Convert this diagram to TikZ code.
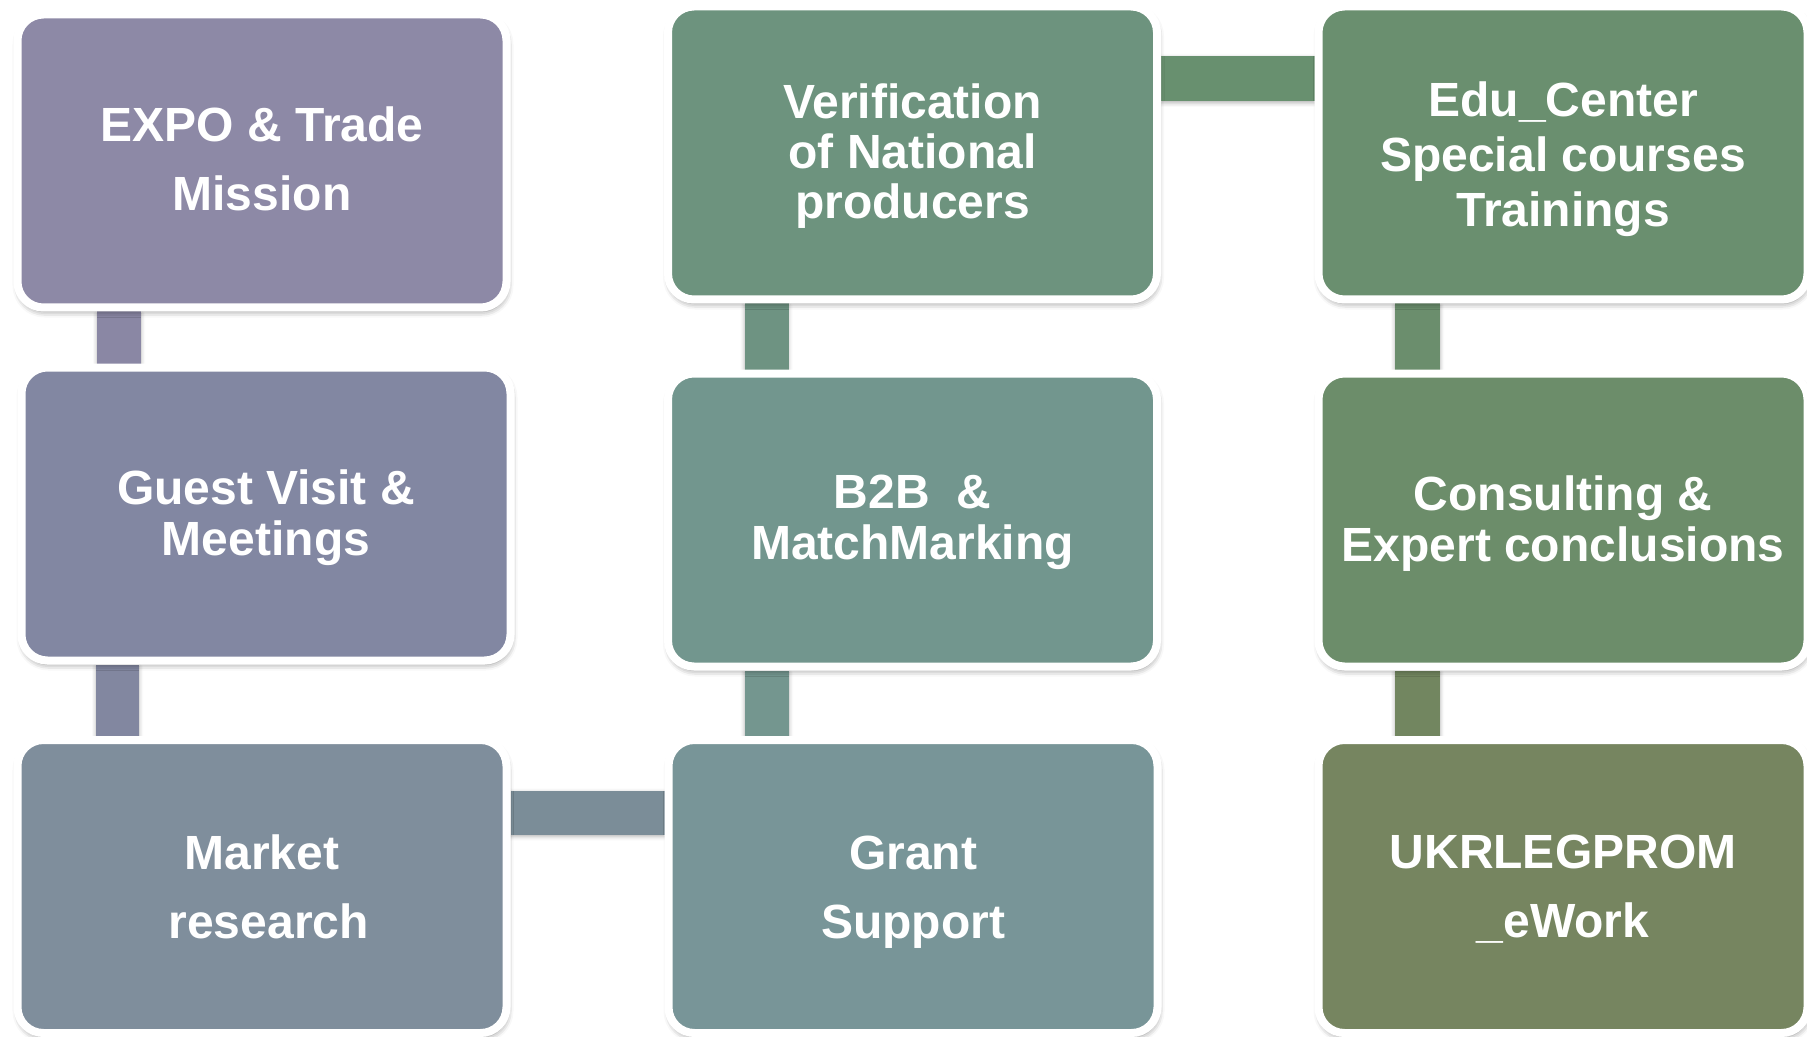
\documentclass[tikz,border=0pt]{standalone}
\usepackage{fontspec}
\setmainfont{Liberation Sans}
\usetikzlibrary{backgrounds,shadows.blur}

\definecolor{expoC}{HTML}{8D89A6}
\definecolor{guestC}{HTML}{8287A2}
\definecolor{marketC}{HTML}{7F8E9C}
\definecolor{verifC}{HTML}{6D937E}
\definecolor{btobC}{HTML}{72968E}
\definecolor{grantC}{HTML}{789598}
\definecolor{eduC}{HTML}{6A8F6F}
\definecolor{consultC}{HTML}{6C8D6A}
\definecolor{ukrC}{HTML}{768560}

\definecolor{linkA}{HTML}{8A87A4}
\definecolor{linkB}{HTML}{8287A0}
\definecolor{linkC}{HTML}{7B8D98}
\definecolor{linkD}{HTML}{6E9382}
\definecolor{linkE}{HTML}{74968F}
\definecolor{linkF}{HTML}{68906F}
\definecolor{linkG}{HTML}{6B8E6D}
\definecolor{linkH}{HTML}{728660}

% strut to push a text block down a little
\newcommand{\topgap}[1]{\rule{0pt}{#1}}

\tikzset{
  stepbox/.style={draw=white, line width=4pt, rounded corners=13pt, fill=#1,
    text=white, minimum width=244.5pt, minimum height=146.5pt,
    align=center, inner sep=0pt,
    font=\bfseries\fontsize{24}{25.5}\selectfont,
    blur shadow={shadow xshift=0.5pt, shadow yshift=-2pt,
      shadow blur radius=3pt, shadow opacity=45}},
  loose/.style={font=\bfseries\fontsize{24}{#1}\selectfont},
  textup/.style={execute at end node={\rule[-#1]{0pt}{0pt}}},
  link/.style={fill=#1, blur shadow={shadow xshift=0pt, shadow yshift=-1pt,
      shadow blur radius=2pt, shadow opacity=30}}
}

\begin{document}
\begin{tikzpicture}[x=0.5pt,y=-0.5pt]

\useasboundingbox (0,0) rectangle (1807,1037);

% left column
\node[stepbox=expoC, loose=34.5, textup=2.3pt] (expo) at (262,161) {EXPO \& Trade\\Mission};
\node[stepbox=guestC] (guest) at (266,514) {\topgap{21pt}Guest Visit \&\\Meetings};
\node[stepbox=marketC, loose=34.5] (market) at (262,886.5) {Market\\\hspace*{.278em}research};

% middle column
\node[stepbox=verifC, loose=25] (verif) at (912.5,153) {\topgap{20.4pt}Verification\\of National\\producers};
\node[stepbox=btobC] (btob) at (912.5,520) {\topgap{19.5pt}B2B~~\&\\MatchMarking};
\node[stepbox=grantC, loose=34.5] (grant) at (913,886.5) {\topgap{22pt}Grant\\Support};

% right column
\node[stepbox=eduC, loose=27.5] (edu) at (1563,153) {\topgap{23.5pt}Edu\_Center\\Special courses\\Trainings};
\node[stepbox=consultC] (consult) at (1563,520) {\topgap{21pt}Consulting \&\\Expert conclusions};
\node[stepbox=ukrC, loose=34.5] (ukr) at (1563,886.5) {\topgap{19.5pt}UKRLEGPROM\\\_eWork};

\begin{scope}[on background layer]
\fill[link=linkA] ([xshift=-82.5pt]expo.south) rectangle ([xshift=-60.5pt]expo.south |- guest.north);
\fill[link=linkB] ([xshift=-85pt]guest.south) rectangle ([xshift=-63.5pt]guest.south |- market.north);
\fill[link=linkC] ([yshift=48pt]market.east) rectangle ([yshift=26pt]grant.west);

\fill[link=linkD] ([xshift=-84pt]verif.south) rectangle ([xshift=-62pt]btob.north);
\fill[link=linkE] ([xshift=-84pt]btob.south) rectangle ([xshift=-62pt]grant.north);
\fill[link=linkF] ([yshift=48.5pt]verif.east) rectangle ([yshift=26pt]edu.west);

\fill[link=linkG] ([xshift=-84pt]edu.south) rectangle ([xshift=-61.5pt]consult.north);
\fill[link=linkH] ([xshift=-84pt]consult.south) rectangle ([xshift=-61.5pt]ukr.north);
\end{scope}

\end{tikzpicture}
\end{document}
